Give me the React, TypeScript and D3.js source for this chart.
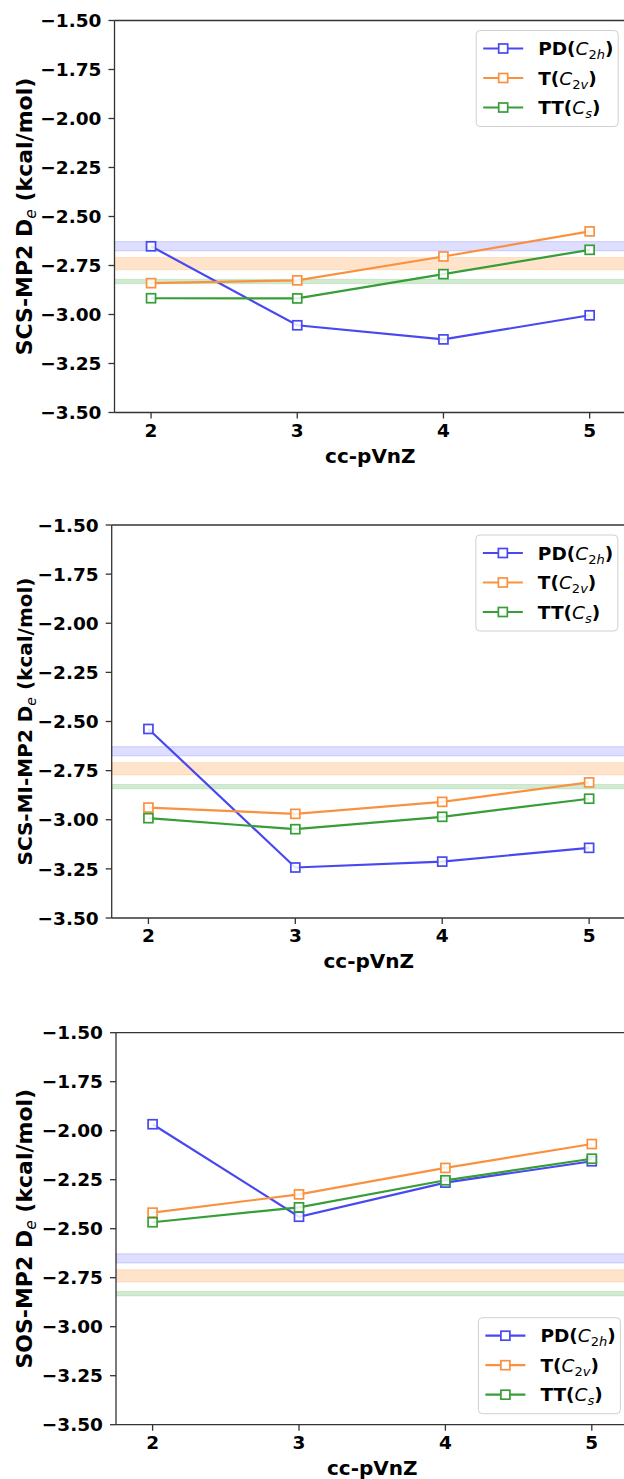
import React, { useEffect } from "react";
import * as d3 from "d3";

const basis = [2, 3, 4, 5];
const xTicks = [2, 3, 4, 5];
const yTicks = [-1.5, -1.75, -2.0, -2.25, -2.5, -2.75, -3.0, -3.25, -3.5];

// Panel 1: SCS-MP2
const scsPD = [-2.652, -3.055, -3.127, -3.004];
const scsT = [-2.84, -2.826, -2.704, -2.576];
const scsTT = [-2.917, -2.918, -2.794, -2.67];
// Panel 2: SCS-MI-MP2
const scsmiPD = [-2.538, -3.243, -3.213, -3.143];
const scsmiT = [-2.938, -2.97, -2.909, -2.81];
const scsmiTT = [-2.992, -3.048, -2.985, -2.893];
// Panel 3: SOS-MP2
const sosPD = [-1.967, -2.439, -2.265, -2.156];
const sosT = [-2.418, -2.325, -2.19, -2.068];
const sosTT = [-2.467, -2.391, -2.253, -2.143];

// Reference bands [low, high]
const bandPD = [-2.675, -2.628];
const bandT = [-2.772, -2.709];
const bandTT = [-2.843, -2.82];

const seriesNames = ["PD", "T", "TT"];
const seriesSubs = ["2h", "2v", "s"];
const colors = ["#4848f0", "#fa913f", "#379d37"];
const bandColors = ["#0000ff", "#ff7f0e", "#2ca02c"];

const panels = [
  { label: "SCS-MP2", data: [scsPD, scsT, scsTT], left: 114.5, unit: 146.2, top: 20.5, bottom: 412.5, legend: "top", lfs: 22 },
  { label: "SCS-MI-MP2", data: [scsmiPD, scsmiT, scsmiTT], left: 111.7, unit: 146.9, top: 525, bottom: 918, legend: "top", lfs: 20 },
  { label: "SOS-MP2", data: [sosPD, sosT, sosTT], left: 116, unit: 146.4, top: 1032.7, bottom: 1424.7, legend: "bottom", lfs: 22 },
];

const FONT = "'DejaVu Sans', sans-serif";

function Panel({ p }: { p: any }) {
  const right = p.left + p.unit * 3.5;
  const x = d3.scaleLinear().domain([1.75, 5.25]).range([p.left, right]);
  const y = d3.scaleLinear().domain([-3.5, -1.5]).range([p.bottom, p.top]);
  const line = d3
    .line<number>()
    .x((_, i) => x(basis[i]))
    .y((d) => y(d));
  const bands = [bandPD, bandT, bandTT];
  const ms = 9;
  const legW = 142;
  const legH = 96;
  const legX = right - 8 - legW;
  const legY = p.legend === "top" ? p.top + 10 : p.bottom - 11 - legH;
  const midY = (p.top + p.bottom) / 2;
  return (
    <g>
      {bands.map((b, i) => (
        <rect
          key={"b" + i}
          x={p.left}
          width={right - p.left}
          y={y(b[1])}
          height={y(b[0]) - y(b[1])}
          fill={bandColors[i]}
          fillOpacity={i === 0 ? 0.13 : 0.22}
          stroke={bandColors[i]}
          strokeOpacity={0.15}
          strokeWidth={1}
        />
      ))}
      {p.data.map((s: number[], i: number) => (
        <g key={"s" + i}>
          <path d={line(s) || ""} fill="none" stroke={colors[i]} strokeWidth={2.2} />
          {s.map((v, j) => (
            <rect
              key={j}
              x={x(basis[j]) - ms / 2}
              y={y(v) - ms / 2}
              width={ms}
              height={ms}
              fill="#ffffff"
              fillOpacity={0.85}
              stroke={colors[i]}
              strokeWidth={1.7}
            />
          ))}
        </g>
      ))}
      <line x1={p.left} x2={p.left} y1={p.top} y2={p.bottom} stroke="#333" strokeWidth={1.3} />
      <line x1={p.left} x2={right} y1={p.bottom} y2={p.bottom} stroke="#333" strokeWidth={1.3} />
      <line x1={p.left} x2={right} y1={p.top} y2={p.top} stroke="#333" strokeWidth={1.3} />
      <line x1={right} x2={right} y1={p.top} y2={p.bottom} stroke="#333" strokeWidth={1.3} />
      {yTicks.map((t) => (
        <g key={"y" + t}>
          <line x1={p.left - 6} x2={p.left} y1={y(t)} y2={y(t)} stroke="#333" strokeWidth={1.3} />
          <text
            x={p.left - 13}
            y={y(t)}
            dy="0.36em"
            textAnchor="end"
            fontFamily={FONT}
            fontWeight="bold"
            fontSize={18.5}
            fill="#000"
          >
            {d3.format(".2f")(t).replace("-", "\u2212")}
          </text>
        </g>
      ))}
      {xTicks.map((t) => (
        <g key={"x" + t}>
          <line x1={x(t)} x2={x(t)} y1={p.bottom} y2={p.bottom + 6} stroke="#333" strokeWidth={1.3} />
          <text
            x={x(t)}
            y={p.bottom + 24}
            textAnchor="middle"
            fontFamily={FONT}
            fontWeight="bold"
            fontSize={18.5}
            fill="#000"
          >
            {t}
          </text>
        </g>
      ))}
      <text
        x={(p.left + right) / 2}
        y={p.bottom + 50}
        textAnchor="middle"
        fontFamily={FONT}
        fontWeight="bold"
        fontSize={20}
        fill="#000"
      >
        cc-pVnZ
      </text>
      <text
        transform={`translate(32,${midY}) rotate(-90)`}
        textAnchor="middle"
        fontFamily={FONT}
        fontWeight="bold"
        fontSize={p.lfs}
        fill="#000"
      >
        {p.label + " D"}
        <tspan fontWeight="normal" fontStyle="italic" fontSize={p.lfs * 0.7} dy={4}>
          e
        </tspan>
        <tspan dy={-4}>{" (kcal/mol)"}</tspan>
      </text>
      <rect x={legX} y={legY} width={legW} height={legH} rx={4} fill="#fff" fillOpacity={0.8} stroke="#d0d0d0" strokeWidth={1} />
      {seriesNames.map((n, i) => {
        const cy = legY + 18 + i * 29.5;
        return (
          <g key={"l" + i}>
            <line x1={legX + 7} x2={legX + 47} y1={cy} y2={cy} stroke={colors[i]} strokeWidth={2.2} />
            <rect x={legX + 27 - ms / 2} y={cy - ms / 2} width={ms} height={ms} fill="#fff" stroke={colors[i]} strokeWidth={1.7} />
            <text x={legX + 62} y={cy} dy="0.36em" fontFamily={FONT} fontSize={18.5} fill="#000">
              <tspan fontWeight="bold">{n + "("}</tspan>
              <tspan fontStyle="italic">C</tspan>
              <tspan fontSize={13} dy={4}>
                {seriesSubs[i].split("").map((c, k) => (
                  <tspan key={k} fontStyle={/[0-9]/.test(c) ? "normal" : "italic"}>
                    {c}
                  </tspan>
                ))}
              </tspan>
              <tspan fontWeight="bold" dy={-4}>
                )
              </tspan>
            </text>
          </g>
        );
      })}
    </g>
  );
}

export default function App() {
  useEffect(() => {
    document.body.style.margin = "0";
  }, []);
  return (
    <svg
      width={624}
      height={1479}
      style={{ position: "absolute", left: 0, top: 0, background: "#fff" }}
      xmlns="http://www.w3.org/2000/svg"
    >
      <rect x={0} y={0} width={624} height={1479} fill="#fff" />
      {panels.map((p, i) => (
        <Panel key={i} p={p} />
      ))}
    </svg>
  );
}
